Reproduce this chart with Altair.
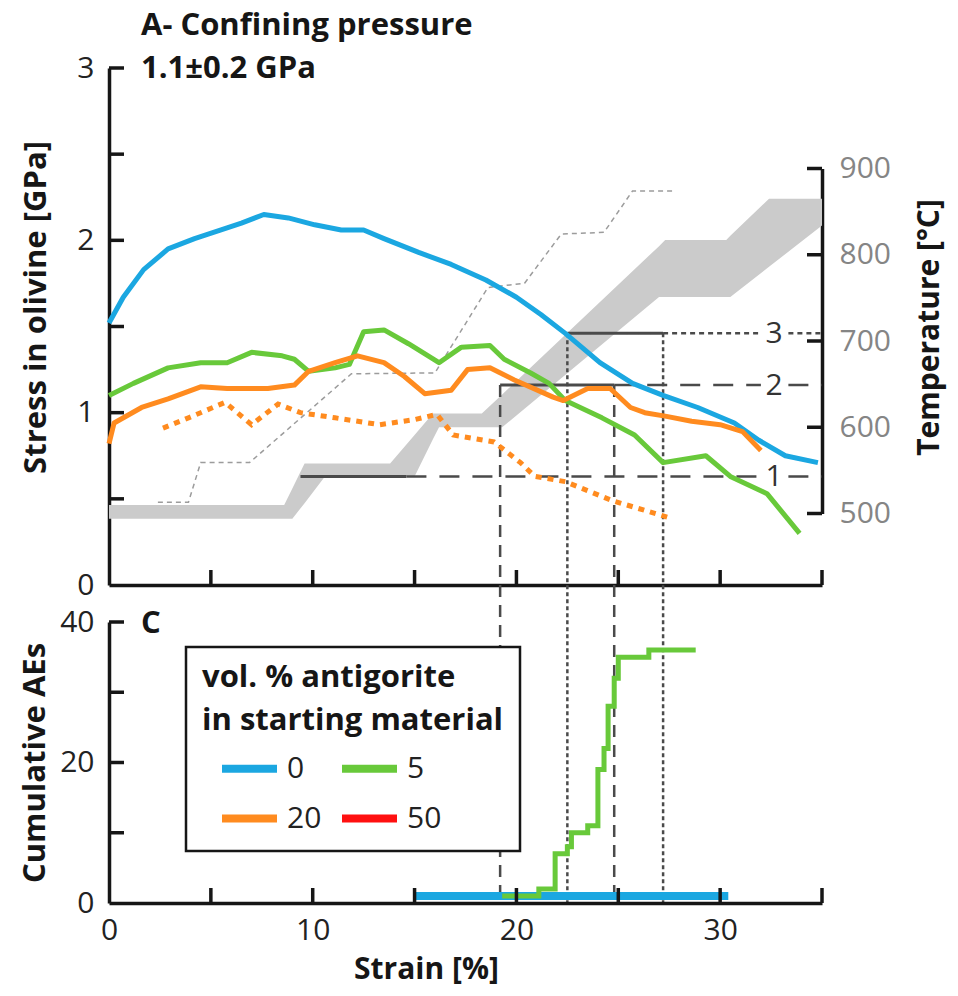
import altair as alt
import pandas as pd

# ------------------------------------------------------------------ data
# Stress in olivine (GPa) against axial strain (%) for each antigorite content
strain_0 = [0, 0.7, 1.7, 2.9, 4.2, 5.5, 6.5, 7.6, 8.8, 10.1, 11.4, 12.5, 13.5, 15.2, 16.8,
            18.5, 20.0, 21.2, 22.4, 24.1, 25.7, 27.2, 28.9, 30.7, 31.9, 33.2, 34.8]
stress_0 = [1.52, 1.67, 1.83, 1.95, 2.01, 2.06, 2.10, 2.15, 2.13, 2.09, 2.06, 2.06, 2.01, 1.93, 1.86,
            1.77, 1.67, 1.57, 1.46, 1.29, 1.17, 1.10, 1.03, 0.94, 0.84, 0.75, 0.71]

strain_5 = [0, 1.2, 2.9, 4.5, 5.8, 7.0, 8.5, 9.1, 9.8, 11.1, 11.8, 12.5, 13.5, 14.7, 16.2, 17.3,
            18.7, 19.4, 20.7, 21.6, 22.4, 24.2, 25.8, 27.2, 29.3, 30.5, 32.3, 33.9]
stress_5 = [1.10, 1.17, 1.26, 1.29, 1.29, 1.35, 1.33, 1.31, 1.24, 1.26, 1.28, 1.47, 1.48, 1.40, 1.29, 1.38,
            1.39, 1.31, 1.23, 1.17, 1.07, 0.97, 0.87, 0.71, 0.75, 0.63, 0.53, 0.30]

strain_20 = [0, 0.25, 1.6, 2.9, 4.5, 5.8, 7.8, 9.1, 9.8, 11.1, 12.2, 13.5, 14.5, 15.5, 16.8,
             17.6, 18.7, 19.9, 21.8, 22.3, 23.5, 24.6, 25.6, 26.3, 27.3, 28.6, 30.0, 31.1, 32.0]
stress_20 = [0.82, 0.94, 1.03, 1.08, 1.15, 1.14, 1.14, 1.16, 1.24, 1.29, 1.33, 1.29, 1.21, 1.11, 1.13,
             1.25, 1.26, 1.19, 1.09, 1.07, 1.14, 1.14, 1.03, 1.00, 0.98, 0.95, 0.93, 0.89, 0.78]

# second 20 % run (dotted)
strain_20b = [2.65, 3.9, 5.7, 7.0, 8.3, 9.4, 11.1, 13.3, 15.0, 16.1, 16.9, 18.9, 20.2, 20.9, 22.4, 24.7, 27.5]
stress_20b = [0.91, 0.97, 1.06, 0.93, 1.05, 1.00, 0.97, 0.93, 0.96, 0.99, 0.87, 0.83, 0.71, 0.63, 0.60, 0.49, 0.39]

# Temperature envelope (gray band) and nominal heating steps (thin dashed), degC
band_strain = [0, 8.6, 9.0, 9.6, 10.6, 13.8, 15.0, 15.9, 16.2, 18.3, 19.3, 27.0, 27.3, 30.3, 30.5, 32.4, 35.0]
band_t_low = [494, 494, 494, 512, 543, 543, 543, 586, 600, 600, 600, 751, 751, 751, 751, 786, 834]
band_t_high = [510, 510, 529, 558, 558, 558, 591, 616, 616, 616, 638, 810, 817, 817, 822, 865, 865]

heat_strain = [2.4, 3.9, 4.5, 6.9, 11.9, 16.0, 18.6, 20.4, 22.2, 24.3, 25.7, 27.7]
heat_temp = [513, 513, 559, 559, 662, 663, 762, 767, 824, 826, 874, 874]

# Reference temperature levels 1-3 and the strain interval each one brackets
ref_label = ["1", "2", "3"]
ref_temp = [543, 649, 709]
ref_strain_start = [9.4, 19.2, 22.5]
ref_strain_end = [14.6, 24.8, 27.2]
ref_style = ["dash", "dash", "dot"]
ref_label_strain = 32.65
ref_label_gap = [32.0, 33.35]

# Cumulative acoustic emissions
ae_strain_0 = [15.0, 30.4]
ae_count_0 = [1, 1]
ae_strain_5 = [19.3, 21.1, 21.9, 22.5, 22.7, 23.5, 24.0, 24.3, 24.5, 24.8, 25.0, 26.5, 28.8]
ae_count_5 = [1, 2, 7, 8, 10, 11, 19, 22, 28, 32, 35, 36, 36]

# Legend categories (vol. % antigorite) and colours
antigorite = ["0", "5", "20", "50"]
palette = ["#1BA7E1", "#68C93A", "#FF8B1F", "#FF1010"]

# Axis ticks
stress_ticks = [0.5, 1, 1.5, 2, 2.5, 3]
temp_ticks = [500, 600, 700, 800, 900]
strain_ticks = [5, 10, 15, 20, 25, 30, 35]
ae_ticks = [10, 20, 30, 40]

# ------------------------------------------------------------------ layout
W = 713
H_TOP = 517
H_BOT = 281
GAP = 37
TICK = 15
FONT = "Open Sans"
BOLD_SIZE = 31
EDGE_TITLE_SIZE = 30
INK = "#161616"
GUIDE = "#4a4a4a"

x_scale = alt.Scale(domain=[0, 35], nice=False, zero=False)
stress_scale = alt.Scale(domain=[0, 3], nice=False, zero=False)
# temperature axis only spans 500-900 degC on the right-hand side of the panel
temp_scale = alt.Scale(domain=[500, 900], range=[H_TOP - 71.5, 100.5], nice=False, zero=False)
ae_scale = alt.Scale(domain=[0, 40], nice=False, zero=False)
color_scale = alt.Scale(domain=antigorite, range=palette)

x_top_axis = alt.Axis(labels=False, title=None)
x_bottom_axis = alt.Axis(values=[0, 10, 20, 30], title="Strain [%]", titleX=317,
                         labelPadding=12, titlePadding=9, titleFontSize=EDGE_TITLE_SIZE)
stress_axis = alt.Axis(orient="left", values=[0, 1, 2, 3], title="Stress in olivine [GPa]",
                       titlePadding=24, titleY=239, labelPadding=15)
temp_axis = alt.Axis(orient="right", values=temp_ticks, title="Temperature [°C]",
                     titleAngle=270, titleBaseline="top", titlePadding=24, titleY=259,
                     titleFontSize=EDGE_TITLE_SIZE, labelPadding=17, labelColor="#858585")
ae_axis = alt.Axis(values=[0, 20, 40], title="Cumulative AEs", titlePadding=8, labelPadding=15)


def xq(field, axis):
    return alt.X(f"{field}:Q", scale=x_scale, axis=axis)


def series(strain, stress, label):
    return pd.DataFrame({"strain": strain, "stress": stress, "antigorite": label})


stress_df = pd.concat([series(strain_0, stress_0, "0"),
                       series(strain_5, stress_5, "5"),
                       series(strain_20, stress_20, "20")])
dotted_df = series(strain_20b, stress_20b, "20")
band_df = pd.DataFrame({"strain": band_strain, "t_low": band_t_low, "t_high": band_t_high})
heat_df = pd.DataFrame({"strain": heat_strain, "temp": heat_temp})

seg_rows = []
for lab, t, s0, s1, st in zip(ref_label, ref_temp, ref_strain_start, ref_strain_end, ref_style):
    seg_rows.append(dict(level=lab, temp=t, x0=s0, x1=s1, style="solid"))
    seg_rows.append(dict(level=lab, temp=t, x0=s1, x1=ref_label_gap[0], style=st))
    seg_rows.append(dict(level=lab, temp=t, x0=ref_label_gap[1], x1=35, style=st))
seg_df = pd.DataFrame(seg_rows)

drop_rows = []
for lab, t, s0, s1, st in list(zip(ref_label, ref_temp, ref_strain_start, ref_strain_end, ref_style))[1:]:
    drop_rows.append(dict(temp=t, strain=s0, style=st))
    drop_rows.append(dict(temp=t, strain=s1, style=st))
drop_df = pd.DataFrame(drop_rows)

label_df = pd.DataFrame({"level": ref_label, "temp": ref_temp, "strain": ref_label_strain})

# ------------------------------------------------------------------ top panel
band = alt.Chart(band_df).mark_area(color="#CBCBCB").encode(
    x=xq("strain", x_top_axis),
    y=alt.Y("t_low:Q", scale=temp_scale, axis=temp_axis),
    y2="t_high:Q",
)

heat = alt.Chart(heat_df).mark_line(color="#9C9C9C", strokeWidth=1.5, strokeDash=[5, 4]).encode(
    x=xq("strain", x_top_axis),
    y=alt.Y("temp:Q", scale=temp_scale, axis=None),
)

seg_dash = {"solid": [1, 0], "dash": [20, 13], "dot": [5, 4]}
seg_layers = []
for st, dash in seg_dash.items():
    seg_layers.append(
        alt.Chart(seg_df).transform_filter(alt.datum.style == st)
        .mark_rule(color=GUIDE, strokeWidth=3 if st == "solid" else 2.5, strokeDash=dash)
        .encode(x=xq("x0", x_top_axis), x2="x1:Q",
                y=alt.Y("temp:Q", scale=temp_scale, axis=None))
    )

drop_dash = {"dash": [12, 8], "dot": [4, 3]}
drop_layers = []
for st, dash in drop_dash.items():
    drop_layers.append(
        alt.Chart(drop_df).transform_filter(alt.datum.style == st)
        .mark_rule(color=GUIDE, strokeWidth=2.5, strokeDash=dash)
        .encode(x=xq("strain", x_top_axis),
                y=alt.Y("temp:Q", scale=temp_scale, axis=None),
                y2=alt.value(H_TOP + GAP + H_BOT))
    )

level_text = alt.Chart(label_df).mark_text(
    font=FONT, fontSize=30, color="#333333", align="center", baseline="middle", dy=1
).encode(
    x=xq("strain", x_top_axis),
    y=alt.Y("temp:Q", scale=temp_scale, axis=None),
    text="level:N",
)

lines = alt.Chart(stress_df).mark_line(strokeWidth=5, strokeJoin="round").encode(
    x=xq("strain", x_top_axis),
    y=alt.Y("stress:Q", scale=stress_scale, axis=stress_axis),
    color=alt.Color("antigorite:N", scale=color_scale, legend=None),
)

dotted = alt.Chart(dotted_df).mark_line(strokeWidth=5, strokeDash=[6, 6]).encode(
    x=xq("strain", x_top_axis),
    y=alt.Y("stress:Q", scale=stress_scale, axis=None),
    color=alt.Color("antigorite:N", scale=color_scale, legend=None),
)

left_ticks_top = alt.Chart(pd.DataFrame({"v": stress_ticks})).mark_rule(
    color=INK, strokeWidth=3.5).encode(
    y=alt.Y("v:Q", scale=stress_scale, axis=None),
    x=alt.value(0), x2=alt.value(TICK),
)
right_ticks = alt.Chart(pd.DataFrame({"v": temp_ticks})).mark_rule(
    color=INK, strokeWidth=3.5).encode(
    y=alt.Y("v:Q", scale=temp_scale, axis=None),
    x=alt.value(W), x2=alt.value(W - TICK),
)
x_ticks_top = alt.Chart(pd.DataFrame({"v": strain_ticks})).mark_rule(
    color=INK, strokeWidth=3.5).encode(
    x=xq("v", x_top_axis),
    y=alt.value(H_TOP), y2=alt.value(H_TOP - TICK),
)

heading = alt.Chart(pd.DataFrame({"k": [0]})).mark_text(
    text=["A- Confining pressure", "1.1±0.2 GPa"], lineHeight=43,
    font=FONT, fontSize=BOLD_SIZE, fontWeight="bold", color=INK, align="left", baseline="alphabetic",
).encode(x=alt.value(32), y=alt.value(-33))

top = alt.layer(
    band, heat, *seg_layers, *drop_layers, level_text, lines, dotted,
    left_ticks_top, right_ticks, x_ticks_top, heading,
).resolve_scale(y="independent").properties(width=W, height=H_TOP)

# ------------------------------------------------------------------ bottom panel
legend = alt.Legend(
    title=["vol. % antigorite", "in starting material"],
    orient="none", legendX=77, legendY=25, columns=2, direction="horizontal",
    symbolType="stroke", symbolStrokeWidth=8, symbolSize=3025, symbolOffset=16,
    labelOffset=6, columnPadding=0, rowPadding=2, padding=16,
    fillColor="white", strokeColor=INK,
    titleFont=FONT, titleFontSize=31, titleFontWeight="bold", titleColor=INK,
    titleLineHeight=43, titlePadding=0, titleLimit=500,
    labelFont=FONT, labelFontSize=30, labelColor="#222222",
)

ae0 = alt.Chart(pd.DataFrame({"strain": ae_strain_0, "count": ae_count_0, "antigorite": "0"})).mark_line(
    strokeWidth=8).encode(
    x=xq("strain", x_bottom_axis),
    y=alt.Y("count:Q", scale=ae_scale, axis=ae_axis),
    color=alt.Color("antigorite:N", scale=color_scale, legend=legend),
)
ae5 = alt.Chart(pd.DataFrame({"strain": ae_strain_5, "count": ae_count_5, "antigorite": "5"})).mark_line(
    strokeWidth=5, interpolate="step-after").encode(
    x=xq("strain", x_bottom_axis),
    y=alt.Y("count:Q", scale=ae_scale, axis=ae_axis),
    color=alt.Color("antigorite:N", scale=color_scale, legend=legend),
)

left_ticks_bot = alt.Chart(pd.DataFrame({"v": ae_ticks})).mark_rule(
    color=INK, strokeWidth=3.5).encode(
    y=alt.Y("v:Q", scale=ae_scale, axis=ae_axis),
    x=alt.value(0), x2=alt.value(TICK),
)
x_ticks_bot = alt.Chart(pd.DataFrame({"v": strain_ticks})).mark_rule(
    color=INK, strokeWidth=3.5).encode(
    x=xq("v", x_bottom_axis),
    y=alt.value(H_BOT), y2=alt.value(H_BOT - TICK),
)
panel_c = alt.Chart(pd.DataFrame({"k": [0]})).mark_text(
    text="C", font=FONT, fontSize=BOLD_SIZE, fontWeight="bold", color=INK,
    align="left", baseline="alphabetic",
).encode(x=alt.value(32), y=alt.value(11))

bottom = alt.layer(ae0, ae5, left_ticks_bot, x_ticks_bot, panel_c).properties(width=W, height=H_BOT)

# ------------------------------------------------------------------ assemble
chart = (
    alt.vconcat(top, bottom, spacing=GAP, bounds="flush")
    .resolve_scale(color="independent")
    .properties(padding={"left": 19, "top": 10, "right": 8, "bottom": 6}, background="white")
    .configure_view(stroke=None)
    .configure_axis(
        ticks=False, tickSize=0, grid=False, domainColor=INK, domainWidth=3.5,
        labelFont=FONT, labelFontSize=30, labelColor="#222222", labelOverlap=False, labelFlush=False,
        titleFont=FONT, titleFontSize=BOLD_SIZE, titleFontWeight="bold", titleColor=INK,
    )
    .configure_legend(strokeWidth=2.5)
)

chart.save("out.html", embed_options={"renderer": "svg", "actions": False})
